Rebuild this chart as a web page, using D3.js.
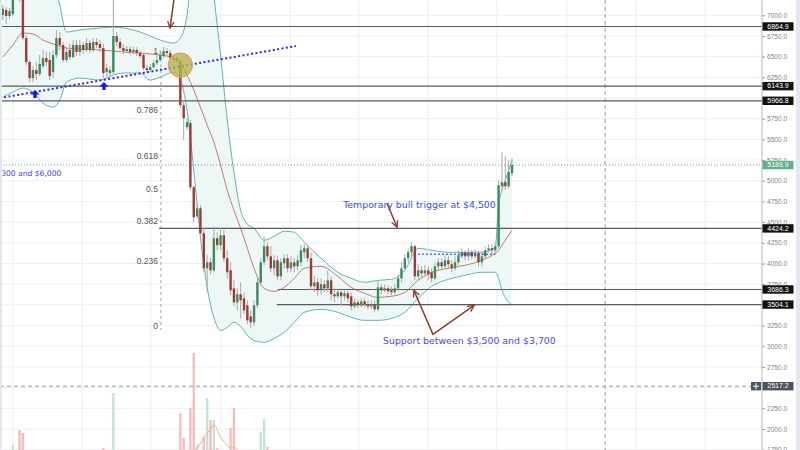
<!DOCTYPE html>
<html><head><meta charset="utf-8">
<script src="https://cdn.jsdelivr.net/npm/d3@7"></script>
<style>html,body{margin:0;padding:0;background:#fff;overflow:hidden}</style>
</head><body>
<svg id="c" width="800" height="450"></svg>
<script>
// ---------- DATA ----------
const opens = [
7004,7064,6991,7016,7246,7367,7306,6725,6435,6241,
6338,6290,6386,6483,6459,6314,6520,6725,6641,6459,
6580,6495,6641,6556,6641,6580,6665,6580,6677,6653,
6604,6314,6302,6314,6749,6677,6604,6568,6592,6556,
6580,6544,6520,6362,6338,6374,6423,6459,6507,6568,
6544,6459,6483,6447,5915,5648,5697,4922,4571,4668,
4366,3942,4015,3918,4305,4221,4342,4063,3918,3700,
3531,3628,3579,3495,3361,3289,3495,3773,4015,4209,
4087,3942,4039,3845,4003,4063,3942,4015,3966,4015,
4136,4184,4063,3725,3773,3676,3749,3700,3797,3628,
3604,3652,3604,3640,3604,3482,3531,3495,3543,3507,
3482,3507,3446,3712,3676,3700,3676,3652,3700,3821,
3942,4063,4136,4209,3845,3918,3882,3918,3894,3821,
3966,4015,3966,4039,3991,3942,4015,4087,4136,4087,
4136,4087,4124,4015,4087,4160,4184,4160,4209,4934,
4983,4934,5092];
const highs = [
7125,7100,7088,7367,7488,7427,7367,6762,6459,6386,
6435,6520,6580,6556,6556,6580,6822,6798,6677,6616,
6653,6701,6701,6701,6677,6725,6701,6725,6725,6701,
6653,6411,6386,7306,6798,6725,6653,6628,6628,6616,
6616,6580,6544,6398,6411,6459,6520,6580,6616,6604,
6580,6507,6507,6483,5975,5757,5733,4947,4729,4705,
4426,4100,4063,4450,4378,4426,4402,4160,4015,3797,
3700,3773,3652,3555,3434,3555,3821,4063,4330,4257,
4209,4100,4087,4063,4112,4112,4087,4063,4100,4221,
4233,4209,4136,3845,3821,3821,3797,3918,3845,3700,
3700,3700,3676,3676,3652,3579,3567,3579,3579,3555,
3555,3555,3797,3749,3749,3737,3725,3749,3870,4015,
4112,4184,4257,4233,3991,3966,3979,3966,3942,4015,
4063,4063,4100,4087,4039,4087,4160,4184,4160,4184,
4172,4172,4160,4136,4209,4233,4233,4257,5007,5346,
5297,5249,5273];
const lows = [
6943,6895,6955,6991,7221,7161,6701,6398,6193,6193,
6217,6265,6362,6386,6217,6241,6483,6580,6435,6435,
6459,6483,6507,6507,6532,6556,6544,6556,6604,6556,
6241,6253,6265,6290,6628,6580,6532,6544,6520,6532,
6507,6483,6338,6302,6314,6362,6398,6435,6483,6507,
6459,6435,6411,5878,5491,5612,4886,4499,4547,4317,
3894,3652,3870,3894,4160,4160,4015,3821,3616,3482,
3434,3337,3386,3265,3216,3240,3458,3737,3979,4039,
3894,3858,3797,3797,3942,3894,3894,3894,3918,3966,
4063,4015,3676,3652,3604,3628,3652,3652,3555,3531,
3579,3495,3555,3531,3434,3458,3458,3470,3470,3446,
3446,3410,3422,3628,3652,3628,3616,3628,3664,3773,
3918,4015,4087,3797,3797,3821,3845,3797,3773,3797,
3918,3918,3942,3942,3894,3918,3979,4063,4039,4039,
4051,4063,3966,3966,4063,4136,4112,4136,4184,4886,
4886,4910,5055];
const closes = [
7076,6991,7052,7246,7427,7185,6725,6435,6241,6338,
6290,6411,6483,6435,6265,6520,6725,6641,6459,6556,
6495,6641,6556,6641,6580,6665,6580,6677,6641,6604,
6302,6362,6338,6749,6677,6604,6568,6592,6556,6580,
6544,6507,6362,6338,6374,6423,6459,6520,6568,6544,
6483,6483,6447,5915,5757,5709,4922,4559,4668,4366,
3942,4015,3918,4305,4221,4342,4063,3894,3676,3531,
3628,3555,3434,3313,3289,3495,3773,4015,4209,4087,
3942,4039,3845,4015,4063,3942,4015,3966,4039,4160,
4184,4063,3725,3773,3676,3749,3700,3797,3628,3604,
3652,3604,3640,3579,3482,3531,3495,3543,3507,3482,
3507,3446,3712,3676,3700,3664,3652,3700,3821,3942,
4063,4136,4209,3845,3918,3882,3918,3870,3821,3966,
4015,3966,4039,3991,3942,4015,4100,4136,4087,4136,
4087,4124,4015,4087,4160,4184,4160,4209,4947,4983,
4934,5104,5190];
const volumes = [
18,15,14,30,22,45,42,20,22,16,
12,14,10,12,18,14,16,12,14,10,
9,10,8,9,8,9,8,9,8,10,
27,12,10,82,20,14,10,8,9,8,
8,9,16,10,9,10,11,12,10,9,
10,9,12,62,37,22,67,122,30,24,
38,77,55,55,27,22,24,23,47,67,
24,22,20,22,21,20,24,43,56,28,
18,15,16,14,12,13,11,10,12,13,
11,10,18,12,11,10,9,11,12,10,
9,10,8,9,12,9,8,8,9,8,
8,10,20,12,10,9,9,10,14,16,
15,14,16,22,14,12,10,10,11,13,
11,10,11,10,10,11,12,10,9,10,
9,10,12,11,12,10,10,12,24,22,
18,16,14];
const volMaIdx = [0,20,40,52,55,57,58,60,62,63,65,67,68,69,71,75,90,120,152];
const volMa     = [18,12,11,14,20,23,27,37,46,50,38,30,27,28,22,21,14,12,14];

// Bollinger band read at sample candles
const bandIdx   = [0,3,6,9,12,15,17,19,23,29,33,36,41,44,47,51,53,55,57,59,61,63,65,67,69,71,73,75,78,81,84,87,90,95,100,104,108,112,116,120,124,128,133,138,143,147,148,149,150,152];
const bandUpper = [7911,8032,8153,8274,8032,7487,7125,6798,6822,6846,6858,6846,6798,6749,6701,6665,6725,7004,7790,8153,8032,7245,6520,5733,5104,4644,4475,4426,4281,4330,4390,4378,4257,4063,3894,3821,3773,3797,3809,3918,4184,4160,4136,4136,4136,4197,4705,4886,5007,5249];
const bandMid   = [6495,6641,6786,6774,6701,6653,6628,6604,6592,6580,6568,6556,6544,6532,6520,6483,6423,6278,6096,5890,5673,5467,5189,4886,4644,4426,4184,3942,3700,3664,3712,3821,3942,3966,3845,3712,3640,3591,3604,3652,3797,3894,3942,3979,4039,4124,4160,4221,4281,4402];
const bandLower = [6011,6072,6120,6072,5939,5890,5975,6193,6241,6217,6278,6302,6302,6217,6253,6314,6217,5854,5128,4317,3712,3349,3192,3228,3289,3240,3132,3071,3047,3095,3168,3289,3410,3446,3410,3349,3313,3313,3337,3410,3579,3725,3809,3858,3894,3894,3821,3676,3591,3495];

const priceTicks = [1750,2000,2250,2500,2750,3000,3250,3500,3750,4000,4250,4500,4750,5000,5250,5500,5750,6000,6250,6500,6750,7000];
const axisTicks  = [1750,2000,2250,2750,3000,3250,3750,4000,4250,4500,4750,5000,5250,5500,5750,6250,6500,6750,7000];
const levelPrices = [6864.9,6143.9,5966.8,4424.2,3686.3,3504.1];
const levelStart  = [-1,-1,-1,46.6,82.1,81.8];
const lastPrice = 5189.9;
const crossPrice = 2517.2, crossIdx = 179.8;
const gridIdx = [3.0,23.6,44.2,65.1,85.7,106.3,126.9,147.5,168.4,189.0,209.6];
const fibLevels = [0,0.236,0.382,0.5,0.618,0.786,1];
const fibLabels = ["0","0.236","0.382","0.5","0.618","0.786","1"];
const fibLow = 3233, fibHigh = 6557, fibIdx = 47.2;
const trendLine = [[-0.9,5999],[87.5,6628]];
const supportDots = [[124,4112],[147,4112]];
const upArrows = [[9.6,6096],[30.2,6193]];
const circle = {i:53, p:6398};
const arrow1 = [[51.3,7250],[49.9,6846]];
const arrow2 = [[114.7,4729],[117.7,4438]];
const arrowV = [[122.7,3676],[128.4,3144],[140.7,3495]];
const notes = [
  {t:"Temporary bull trigger at $4,500", i:101.6, p:4705, s:9.4},
  {t:"Support between $3,500 and $3,700", i:113.5, p:3052, s:9.4},
  {t:"300 and $6,000", i:-0.5, p:5081, s:7.6}
];

// ---------- DRAW ----------
const W=800, H=450, AX=762;
const svg = d3.select('#c');
const x = d3.scaleLinear().domain([0,152]).range([2.8,512]);
const y = d3.scaleLinear().domain([2000,7000]).range([429,15.3]);
const yv = d3.scaleLinear().domain([0,125]).range([475,350]);

svg.append('rect').attr('width',W).attr('height',H).attr('fill','#fff');
const defs = svg.append('defs');
defs.append('clipPath').attr('id','plot').append('rect').attr('x',0).attr('y',0).attr('width',AX).attr('height',H);
defs.append('marker').attr('id','ah').attr('viewBox','0 0 10 10').attr('refX',9).attr('refY',5)
  .attr('markerWidth',8).attr('markerHeight',8).attr('markerUnits','userSpaceOnUse').attr('orient','auto-start-reverse')
  .append('path').attr('d','M1,1 L9,5 L1,9').attr('fill','none').attr('stroke','#8e3b2e').attr('stroke-width',1.6);

const g = svg.append('g').attr('clip-path','url(#plot)');

// grid
g.selectAll('.hg').data(priceTicks).join('line').attr('x1',0).attr('x2',AX)
  .attr('y1',d=>y(d)).attr('y2',d=>y(d)).attr('stroke','#eceef2');
g.selectAll('.vg').data(gridIdx).join('line').attr('y1',0).attr('y2',H)
  .attr('x1',d=>x(d)).attr('x2',d=>x(d)).attr('stroke','#eceef2');

// bollinger
const bb = bandIdx.map((d,k)=>({i:d,u:bandUpper[k],m:bandMid[k],l:bandLower[k]}));
g.append('path').datum(bb).attr('fill','#edf7f6')
  .attr('d', d3.area().x(d=>x(d.i)).y0(d=>y(d.l)).y1(d=>y(d.u)).curve(d3.curveMonotoneX));
const ln = key => d3.line().x(d=>x(d.i)).y(d=>y(d[key])).curve(d3.curveMonotoneX);
g.append('path').datum(bb).attr('d',ln('u')).attr('fill','none').attr('stroke','#62b3b2').attr('stroke-width',1);
g.append('path').datum(bb).attr('d',ln('l')).attr('fill','none').attr('stroke','#62b3b2').attr('stroke-width',1);
g.append('path').datum(bb).attr('d',ln('m')).attr('fill','none').attr('stroke','#c27b71').attr('stroke-width',1);

// volume
g.selectAll('.vol').data(volumes).join('rect')
  .attr('x',(d,i)=>x(i)-1.2).attr('width',2.4)
  .attr('y',d=>yv(d)).attr('height',d=>yv(0)-yv(d))
  .attr('fill',(d,i)=>closes[i]>=opens[i]?'#bfe4d2':'#f8bcbc');
g.append('path').datum(volMaIdx.map((d,k)=>[d,volMa[k]]))
  .attr('d',d3.line().x(d=>x(d[0])).y(d=>yv(d[1])).curve(d3.curveMonotoneX))
  .attr('fill','none').attr('stroke','#f6b37c').attr('stroke-width',1);

// crosshair
g.append('line').attr('x1',0).attr('x2',AX).attr('y1',y(crossPrice)).attr('y2',y(crossPrice))
  .attr('stroke','#9a9ca4').attr('stroke-dasharray','4 3');
g.append('line').attr('x1',x(crossIdx)).attr('x2',x(crossIdx)).attr('y1',0).attr('y2',H)
  .attr('stroke','#9a9ca4').attr('stroke-dasharray','4 3');

// last price dotted line
g.append('line').attr('x1',0).attr('x2',AX).attr('y1',y(lastPrice)).attr('y2',y(lastPrice))
  .attr('stroke','#5fae86').attr('stroke-dasharray','1 2');

// fib vertical dashed
g.append('line').attr('x1',x(fibIdx)).attr('x2',x(fibIdx))
  .attr('y1',y(fibHigh)).attr('y2',y(fibLow)+3).attr('stroke','#a6a6a6').attr('stroke-dasharray','3 3');
g.selectAll('.fib').data(fibLevels).join('text')
  .attr('x',x(fibIdx)-3).attr('y',d=>y(fibLow+d*(fibHigh-fibLow)))
  .attr('text-anchor','end').attr('dominant-baseline','middle')
  .attr('font-family','Liberation Sans, Arial, sans-serif').attr('font-size',8.5).attr('fill','#555')
  .text((d,k)=>fibLabels[k]);

// horizontal levels
g.selectAll('.lvl').data(levelPrices).join('line')
  .attr('x1',(d,k)=>x(levelStart[k])).attr('x2',AX)
  .attr('y1',d=>y(d)).attr('y2',d=>y(d)).attr('stroke','#5a5a5a').attr('stroke-width',1.2);

// candles
const idx = d3.range(opens.length);
g.selectAll('.wick').data(idx).join('line')
  .attr('x1',i=>x(i)).attr('x2',i=>x(i)).attr('y1',i=>y(highs[i])).attr('y2',i=>y(lows[i]))
  .attr('stroke','#a8a8a8').attr('stroke-width',1);
g.selectAll('.body').data(idx).join('rect')
  .attr('x',i=>x(i)-1.2).attr('width',2.4)
  .attr('y',i=>y(Math.max(opens[i],closes[i])))
  .attr('height',i=>Math.max(1,Math.abs(y(opens[i])-y(closes[i]))))
  .attr('fill',i=>closes[i]>=opens[i]?'#3a8b5f':'#a13a2f');

// trend line & dotted support
g.append('line').attr('x1',x(trendLine[0][0])).attr('y1',y(trendLine[0][1]))
  .attr('x2',x(trendLine[1][0])).attr('y2',y(trendLine[1][1]))
  .attr('stroke','#2a2af2').attr('stroke-width',2).attr('stroke-dasharray','2 2.4');
g.append('line').attr('x1',x(supportDots[0][0])).attr('y1',y(supportDots[0][1]))
  .attr('x2',x(supportDots[1][0])).attr('y2',y(supportDots[1][1]))
  .attr('stroke','#3a3af2').attr('stroke-width',1.5).attr('stroke-dasharray','1.5 2.5');

// blue up arrows
g.selectAll('.ua').data(upArrows).join('path')
  .attr('transform',d=>`translate(${x(d[0])},${y(d[1])})`)
  .attr('d','M0,0 L-4.5,4.5 L-1.6,4.5 L-1.6,8 L1.6,8 L1.6,4.5 L4.5,4.5 Z')
  .attr('fill','#1515f5');

// circle
g.append('circle').attr('cx',x(circle.i)).attr('cy',y(circle.p)).attr('r',12)
  .attr('fill','#b4b44c').attr('fill-opacity',0.78).attr('stroke','#ec9a5e').attr('stroke-width',1.2);

// brown arrows
[arrow1,arrow2].forEach(a=>{
  g.append('line').attr('x1',x(a[0][0])).attr('y1',y(a[0][1])).attr('x2',x(a[1][0])).attr('y2',y(a[1][1]))
   .attr('stroke','#8e3b2e').attr('stroke-width',1.5).attr('marker-end','url(#ah)');
});
g.append('path').datum(arrowV).attr('d',d3.line().x(d=>x(d[0])).y(d=>y(d[1])))
  .attr('fill','none').attr('stroke','#8e3b2e').attr('stroke-width',1.5)
  .attr('marker-start','url(#ah)').attr('marker-end','url(#ah)');

// notes
g.selectAll('.note').data(notes).join('text')
  .attr('x',d=>x(d.i)).attr('y',d=>y(d.p)).attr('dominant-baseline','middle')
  .attr('font-family','DejaVu Sans, Verdana, sans-serif').attr('font-size',d=>d.s).attr('fill','#4848f2')
  .text(d=>d.t);

// edge strips
svg.append('rect').attr('x',0).attr('y',0).attr('width',2).attr('height',H).attr('fill','#e3e7ef');
svg.append('rect').attr('x',796).attr('y',0).attr('width',4).attr('height',H).attr('fill','#e3e7ef');

// right axis
const ax = svg.append('g').attr('transform',`translate(${AX},0)`)
  .call(d3.axisRight(y).tickValues(axisTicks).tickSize(3).tickPadding(2).tickFormat(d3.format('.1f')));
ax.select('.domain').remove();
ax.selectAll('.tick line').attr('stroke','#9a9a9a');
ax.selectAll('.tick text').attr('font-family','Liberation Sans, Arial, sans-serif').attr('font-size',6.6).attr('fill','#858585');
svg.append('line').attr('x1',AX).attr('x2',AX).attr('y1',0).attr('y2',H).attr('stroke','#b4b8c2');

// tags
function tag(p,bg){
  const t = svg.append('g').attr('transform',`translate(${AX},${y(p)})`);
  t.append('rect').attr('x',0.5).attr('y',-4.2).attr('width',31).attr('height',8.4).attr('fill',bg);
  t.append('text').attr('x',16).attr('y',0.3).attr('text-anchor','middle').attr('dominant-baseline','middle')
   .attr('font-family','Liberation Sans, Arial, sans-serif').attr('font-size',7).attr('fill','#fff').text(d3.format('.1f')(p));
}
levelPrices.forEach(p=>tag(p,'#111'));
tag(lastPrice,'#61b08a');
tag(crossPrice,'#4d535f');
const plus = svg.append('g').attr('transform',`translate(${AX-11},${y(crossPrice)})`);
plus.append('rect').attr('x',0).attr('y',-4.2).attr('width',10).attr('height',8.4).attr('fill','#4d535f');
plus.append('path').attr('d','M2,0 H8 M5,-3 V3').attr('stroke','#fff').attr('stroke-width',1);
</script>
</body></html>
